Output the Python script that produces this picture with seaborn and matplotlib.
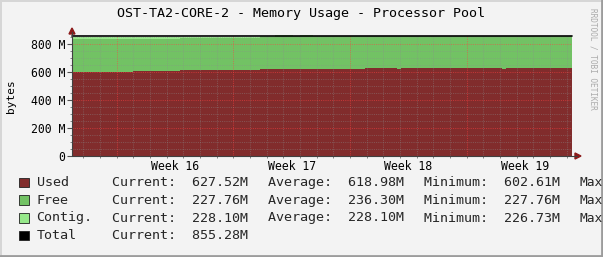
import numpy as np
import pandas as pd
import matplotlib
matplotlib.use("Agg")
import matplotlib.pyplot as plt
from matplotlib.patches import Rectangle, Polygon
from matplotlib.lines import Line2D
import seaborn as sns

# ---------------- data (values in M bytes, time in days from graph start) ----------------
step_days = [0.00, 3.66, 6.48, 11.28, 12.18, 13.26, 13.68, 14.46, 17.58, 19.50, 19.74, 25.80, 26.04]
used_M    = [602.6, 608.0, 615.0, 621.0, 621.0, 621.0, 621.0, 621.0, 627.5, 621.0, 627.5, 621.0, 627.52]
free_M    = [233.4, 228.0, 228.0, 232.0, 234.28, 234.28, 234.28, 234.28, 227.78, 234.28, 227.78, 234.28, 227.76]
contig_M  = [249.4, 244.0, 237.0, 234.0, 241.0, 233.0, 241.0, 232.0, 229.0, 234.0, 229.0, 234.0, 229.0]
total_M = 855.28
period_days = 30
first_week_day = 2.68
week_labels = ["Week 16", "Week 17", "Week 18", "Week 19"]
ytick_vals = [0, 200, 400, 600, 800]
ytick_labels = ["0", "200 M", "400 M", "600 M", "800 M"]

title = "OST-TA2-CORE-2 - Memory Usage - Processor Pool"
series_names = ["Used", "Free", "Contig.", "Total"]
cur_vals = ["627.52M", "227.76M", "228.10M", "855.28M"]
avg_vals = ["618.98M", "236.30M", "228.10M", None]
min_vals = ["602.61M", "227.76M", "226.73M", None]

# ---------------- style ----------------
sns.set_theme(style="white")
plt.rcParams["font.family"] = ["DejaVu Sans Mono"]

C_USED = "#812C2C"
C_FREE = "#72C264"
C_CONTIG = "#96E88A"
C_BG = "#F3F3F3"

W, H = 603, 257
fig = plt.figure(figsize=(W / 100, H / 100), dpi=100, facecolor=C_BG)

def fx(px):
    return px / W

def fy(py):
    return 1 - py / H

ax = fig.add_axes([fx(72), fy(156), 500 / W, 120 / H])
ax.set_facecolor("white")

df = pd.DataFrame({
    "day": step_days + [period_days],
    "used": used_M + [used_M[-1]],
    "free": free_M + [free_M[-1]],
    "contig": contig_M + [contig_M[-1]],
})
df["total"] = total_M
df["used_free"] = df["used"] + df["free"]
df["used_contig"] = df["used"] + df["contig"]

ax.fill_between(df["day"], 0, df["used"], step="post", color=C_USED, lw=0, zorder=1)
ax.fill_between(df["day"], df["used"], df["used_contig"], step="post", color=C_CONTIG,
                lw=0, zorder=1.2, clip_on=False)
ax.fill_between(df["day"], df["used"], df["used_free"], step="post", color=C_FREE,
                lw=0, zorder=1.4)

# grid
minor_c = (0.55, 0.55, 0.55, 0.42)
major_c = (1.0, 0.25, 0.25, 0.55)
ls = (0, (1, 1.2))
k = -3
while True:
    d = first_week_day + k
    if d > period_days:
        break
    if d > 0.05:
        ax.axvline(d, color=major_c if k % 7 == 0 else minor_c, lw=0.72, ls=ls, zorder=3)
    k += 1
for v in range(50, 860, 50):
    ax.axhline(v, color=major_c if v % 200 == 0 else minor_c, lw=0.72, ls=ls, zorder=3)

sns.lineplot(data=df, x="day", y="total", ax=ax, color="black", lw=1.2,
             drawstyle="steps-post", zorder=5, legend=False, clip_on=False)

ax.set_xlim(0, period_days)
ax.set_ylim(0, 120 / 0.14)

for s in ax.spines.values():
    s.set_visible(False)

ax.set_yticks(ytick_vals, labels=ytick_labels)
ax.set_yticks(np.arange(50, 860, 50), minor=True)
mids = [first_week_day + 7 * i + 3.5 for i in range(len(week_labels))]
ax.set_xticks(mids, labels=week_labels)
ax.set_xticks([first_week_day + i for i in range(-2, 28) if 0 < first_week_day + i < period_days], minor=True)
ax.tick_params(axis="y", which="major", length=3.5, width=0.8, color="#505050", pad=1.5,
               labelsize=8.3, labelcolor="black", left=True)
ax.tick_params(axis="y", which="minor", length=1.5, width=0.7, color="#808080", left=True)
ax.tick_params(axis="x", which="major", length=0, pad=3.2, labelsize=8.3, labelcolor="black")
ax.tick_params(axis="x", which="minor", length=1.5, width=0.7, color="#808080", bottom=True)
ax.set_xlabel("")
ax.set_ylabel("")

# axis lines and arrows
fig.add_artist(Line2D([fx(72), fx(577)], [fy(156), fy(156)], color="#404040", lw=0.8))
fig.add_artist(Line2D([fx(72), fx(72)], [fy(156), fy(32)], color="#404040", lw=0.8))
fig.add_artist(Polygon([[fx(575), fy(153)], [fx(575), fy(159)], [fx(581), fy(156)]],
                       closed=True, color="#8B1A1A", transform=fig.transFigure))
fig.add_artist(Polygon([[fx(69), fy(34)], [fx(75), fy(34)], [fx(72), fy(28)]],
                       closed=True, color="#8B1A1A", transform=fig.transFigure))

# title, y label, watermark
fig.text(fx(301), fy(14), title, ha="center", va="center", fontsize=9.6, color="black")
fig.text(fx(11), fy(96), "bytes", ha="center", va="center", rotation=90, fontsize=8, color="black")
fig.text(fx(592.5), fy(59), "RRDTOOL / TOBI OETIKER", ha="center", va="center", rotation=270,
         fontsize=5.6, color="#ABABAB")

# legend
rows_y = [182.5, 200.3, 218.0, 235.8]
colors = [C_USED, C_FREE, C_CONTIG, "black"]
for i, name in enumerate(series_names):
    y = rows_y[i]
    fig.add_artist(Rectangle((fx(19), fy(y + 4.5)), 10 / W, 9.5 / H, transform=fig.transFigure,
                             facecolor=colors[i], edgecolor="#202020", lw=0.6))
    fig.text(fx(36.5), fy(y), name, ha="left", va="center", fontsize=9.6)
    fig.text(fx(112.3), fy(y), "Current:  " + cur_vals[i], ha="left", va="center", fontsize=9.6)
    if avg_vals[i] is not None:
        fig.text(fx(268.3), fy(y), "Average:  " + avg_vals[i], ha="left", va="center", fontsize=9.6)
        fig.text(fx(424.3), fy(y), "Minimum:  " + min_vals[i], ha="left", va="center", fontsize=9.6)
        fig.text(fx(579.0), fy(y), "Max", ha="left", va="center", fontsize=9.3)

# 3D frame of the canvas
fig.add_artist(Line2D([0, 1], [fy(0.7), fy(0.7)], color="#D6D6D6", lw=1.4))
fig.add_artist(Line2D([fx(0.7), fx(0.7)], [0, 1], color="#D6D6D6", lw=1.4))
fig.add_artist(Line2D([0, 1], [fy(255.6), fy(255.6)], color="#9C9C9C", lw=2.0))
fig.add_artist(Line2D([fx(601.6), fx(601.6)], [0, 1], color="#9C9C9C", lw=2.0))

fig.savefig("out.png", dpi=100, facecolor=C_BG)
